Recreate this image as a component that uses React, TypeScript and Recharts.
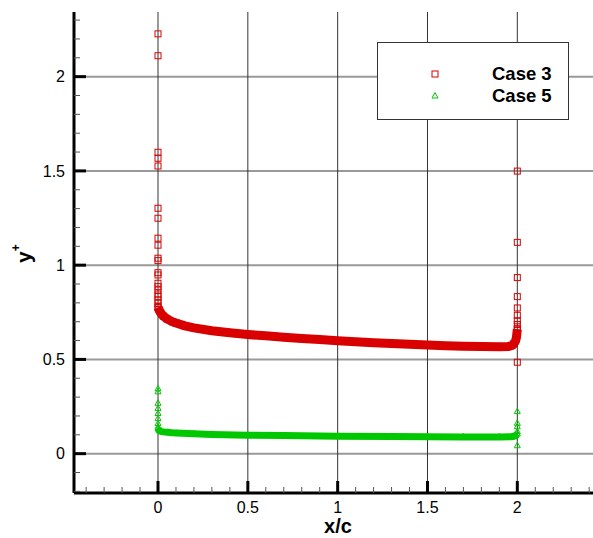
import React from 'react';
import { ScatterChart, Scatter, XAxis, YAxis, CartesianGrid } from 'recharts';

// Case 3 (red squares) - the dense wall band, plus the loose points stacked at x/c = 0 and 2
const case3BandX = [0, 0.005, 0.01, 0.02, 0.03, 0.05, 0.08, 0.1, 0.15, 0.2, 0.3, 0.4, 0.5, 0.6, 0.7, 0.8, 0.9, 1.0, 1.1, 1.2, 1.3, 1.4, 1.5, 1.6, 1.7, 1.8, 1.9, 1.95, 1.97, 1.98, 1.99, 1.995, 2.0];
const case3BandY = [0.775, 0.765, 0.755, 0.74, 0.73, 0.715, 0.7, 0.693, 0.678, 0.667, 0.652, 0.641, 0.632, 0.625, 0.618, 0.611, 0.605, 0.599, 0.594, 0.589, 0.584, 0.58, 0.576, 0.573, 0.57, 0.568, 0.567, 0.568, 0.574, 0.582, 0.598, 0.615, 0.66];
const case3LeadY = [2.227, 2.111, 1.599, 1.567, 1.526, 1.302, 1.249, 1.143, 1.106, 1.037, 1.024, 0.96, 0.948, 0.904, 0.886, 0.868, 0.847, 0.833, 0.815, 0.798, 0.78];
const case3TrailY = [1.499, 1.121, 0.934, 0.833, 0.773, 0.734, 0.705, 0.685, 0.665, 0.64, 0.485];

// Case 5 (green triangles)
const case5BandX = [0, 0.005, 0.01, 0.02, 0.05, 0.1, 0.2, 0.3, 0.5, 0.7, 1.0, 1.3, 1.5, 1.7, 1.9, 1.97, 1.99, 2.0];
const case5BandY = [0.135, 0.125, 0.12, 0.117, 0.113, 0.109, 0.105, 0.102, 0.098, 0.096, 0.093, 0.091, 0.09, 0.089, 0.089, 0.09, 0.095, 0.105];
const case5LeadY = [0.344, 0.328, 0.267, 0.24, 0.213, 0.186, 0.159, 0.141];
const case5TrailY = [0.223, 0.161, 0.143, 0.117, 0.042];

const xTicks = [-0.4, -0.3, -0.2, -0.1, 0, 0.1, 0.2, 0.3, 0.4, 0.5, 0.6, 0.7, 0.8, 0.9, 1, 1.1, 1.2, 1.3, 1.4, 1.5, 1.6, 1.7, 1.8, 1.9, 2, 2.1, 2.2, 2.3, 2.4];
const yTicks = [-0.2, -0.1, 0, 0.1, 0.2, 0.3, 0.4, 0.5, 0.6, 0.7, 0.8, 0.9, 1, 1.1, 1.2, 1.3, 1.4, 1.5, 1.6, 1.7, 1.8, 1.9, 2, 2.1, 2.2, 2.3];
const majorX = [0, 0.5, 1, 1.5, 2];
const majorY = [0, 0.5, 1, 1.5, 2];

const seriesNames = ['Case 3', 'Case 5'];
const RED = '#d80000';
const GREEN = '#00c800';

const FONT = '"Liberation Sans", Arial, Helvetica, sans-serif';

const pts = (xs: number[], ys: number[]) => ys.map((y, i) => ({ x: xs[i], y }));
const at = (x: number, ys: number[]) => ys.map((y) => ({ x, y }));

const isMajor = (v: number) => Math.abs(v * 2 - Math.round(v * 2)) < 1e-6;

const Square = (p: any) => (
  <rect x={p.cx - 3} y={p.cy - 3} width={6} height={6} fill="none" stroke={RED} strokeWidth={1} />
);
const Triangle = (p: any) => (
  <polygon
    points={`${p.cx},${p.cy - 3.5} ${p.cx - 3},${p.cy + 2} ${p.cx + 3},${p.cy + 2}`}
    fill="none"
    stroke={GREEN}
    strokeWidth={1}
  />
);

const XTick = (props: any) => {
  const { x, y, payload } = props;
  const major = isMajor(payload.value);
  return (
    <g>
      <line x1={x} x2={x} y1={y} y2={y - (major ? 12 : 6)} stroke={major ? '#000' : '#555'} strokeWidth={major ? 3 : 1} />
      {major && (
        <text x={x} y={y + 20} textAnchor="middle" fontSize={16} fontFamily={FONT} fill="#000">
          {String(payload.value)}
        </text>
      )}
    </g>
  );
};

const YTick = (props: any) => {
  const { x, y, payload } = props;
  const major = isMajor(payload.value);
  return (
    <g>
      <line x1={x} x2={x + (major ? 12 : 6)} y1={y} y2={y} stroke={major ? '#000' : '#555'} strokeWidth={major ? 3 : 1} />
      {major && (
        <text x={x - 9} y={y + 5.8} textAnchor="end" fontSize={16} fontFamily={FONT} fill="#000">
          {String(payload.value)}
        </text>
      )}
    </g>
  );
};

const XTitle = () => (
  <text x={338} y={533} textAnchor="middle" fontSize={20} fontWeight="bold" fontFamily={FONT} fill="#000">
    x/c
  </text>
);

const YTitle = () => (
  <text x={31} y={263} transform="rotate(-90, 31, 263)" fontSize={21} fontWeight="bold" fontFamily={FONT} fill="#000">
    y
    <tspan dy={-11} fontSize={12}>+</tspan>
  </text>
);

const LegendBox = () => (
  <div
    style={{
      position: 'absolute',
      left: 377,
      top: 42,
      width: 192,
      height: 78,
      boxSizing: 'border-box',
      border: '1px solid #333',
      background: '#fff',
    }}
  >
    <svg width={190} height={76} style={{ display: 'block' }}>
      <g transform="translate(-1,-1)">
        <Square cx={58} cy={32} />
        <Triangle cx={58} cy={54} />
        <text x={115} y={38} fontSize={18.5} fontWeight="bold" fontFamily={FONT} fill="#000">
          {seriesNames[0]}
        </text>
        <text x={115} y={60} fontSize={18.5} fontWeight="bold" fontFamily={FONT} fill="#000">
          {seriesNames[1]}
        </text>
      </g>
    </svg>
  </div>
);

export default function App() {
  return (
    <div style={{ position: 'relative', width: 593, height: 538, background: '#fff' }}>
      <style>{'html, body { margin: 0; padding: 0; overflow: hidden; }'}</style>
      <ScatterChart width={593} height={538} margin={{ top: 12, right: 0, bottom: 0, left: 0 }}>
        <CartesianGrid vertical={false} horizontalValues={majorY} stroke="#999" strokeWidth={2} />
        <CartesianGrid horizontal={false} verticalValues={majorX} stroke="#333" strokeWidth={1} />
        <XAxis
          type="number"
          dataKey="x"
          domain={[-0.4676, 2.4213]}
          allowDataOverflow
          ticks={xTicks}
          interval={0}
          tick={<XTick />}
          tickSize={0}
          tickMargin={0}
          height={45}
          axisLine={{ stroke: '#000', strokeWidth: 3 }}
          label={<XTitle />}
        />
        <YAxis
          type="number"
          dataKey="y"
          domain={[-0.2087, 2.343]}
          allowDataOverflow
          ticks={yTicks}
          interval={0}
          tick={<YTick />}
          tickSize={0}
          tickMargin={0}
          width={74}
          axisLine={{ stroke: '#000', strokeWidth: 3 }}
          label={<YTitle />}
        />
        <Scatter
          name={seriesNames[0]}
          data={pts(case3BandX, case3BandY)}
          fill={RED}
          line={{ stroke: RED, strokeWidth: 9 }}
          lineJointType="linear"
          shape={Square}
          isAnimationActive={false}
        />
        <Scatter name={seriesNames[0]} data={at(0, case3LeadY)} fill={RED} shape={Square} isAnimationActive={false} />
        <Scatter name={seriesNames[0]} data={at(2, case3TrailY)} fill={RED} shape={Square} isAnimationActive={false} />
        <Scatter
          name={seriesNames[1]}
          data={pts(case5BandX, case5BandY)}
          fill={GREEN}
          line={{ stroke: GREEN, strokeWidth: 7 }}
          lineJointType="linear"
          shape={Triangle}
          isAnimationActive={false}
        />
        <Scatter name={seriesNames[1]} data={at(0, case5LeadY)} fill={GREEN} shape={Triangle} isAnimationActive={false} />
        <Scatter name={seriesNames[1]} data={at(2, case5TrailY)} fill={GREEN} shape={Triangle} isAnimationActive={false} />
      </ScatterChart>
      <LegendBox />
    </div>
  );
}
